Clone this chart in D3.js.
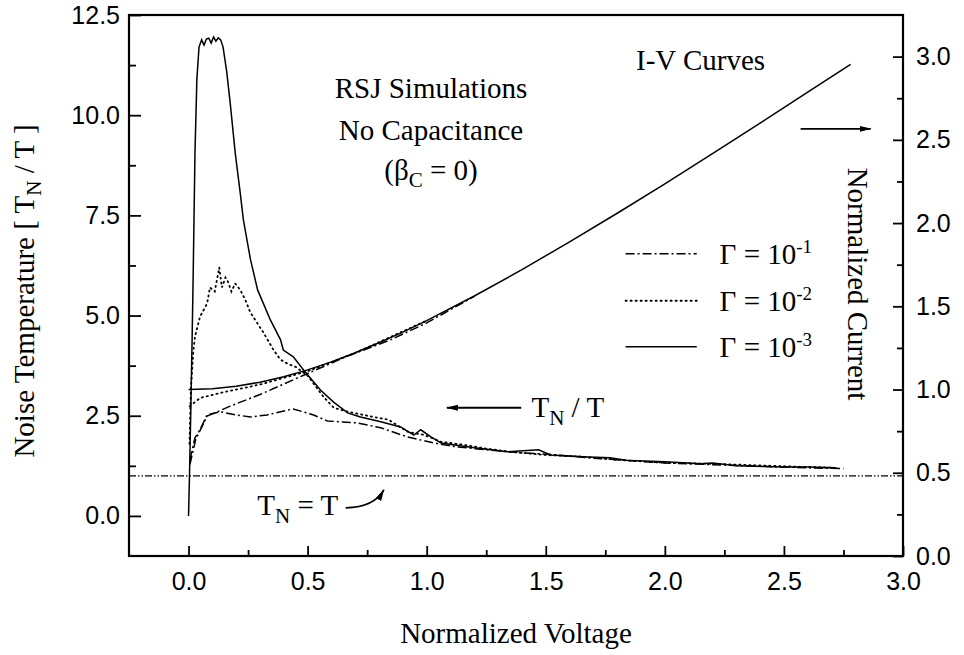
<!DOCTYPE html>
<html>
<head>
<meta charset="utf-8">
<script src="https://cdn.jsdelivr.net/npm/d3@7"></script>
<style>
  body { margin: 0; background: #fff; }
  svg { display: block; }
  .tk text { font-family: "Liberation Sans", Arial, Helvetica, sans-serif; font-size: 25px; fill: #000; }
  .tk path, .tk line { stroke: #000; stroke-width: 1.8px; }
  .serif { font-family: "Liberation Serif", "Times New Roman", Times, "DejaVu Serif", serif; font-size: 29px; fill: #000; }
</style>
</head>
<body>
<div id="chart"></div>
<script>
// Noise temperature T_N/T vs normalized voltage (left axis)
const vTnG3 = [0, 0.004, 0.01, 0.015, 0.02, 0.027, 0.035, 0.044, 0.055, 0.065, 0.075, 0.085, 0.095, 0.105, 0.115, 0.125, 0.135, 0.145, 0.16, 0.175, 0.196, 0.217, 0.23, 0.26, 0.29, 0.343, 0.386, 0.398, 0.44, 0.483, 0.554, 0.609, 0.668, 0.722, 0.807, 0.89, 0.946, 0.975, 1.018, 1.06, 1.2, 1.34, 1.47, 1.52, 1.68, 1.77, 1.85, 2.0, 2.15, 2.2, 2.3, 2.5, 2.6, 2.72];
const tnG3  = [0, 1.0, 2.8, 4.4, 6.2, 9.06, 10.9, 11.7, 11.88, 11.75, 11.9, 11.92, 11.8, 11.95, 11.85, 11.93, 11.88, 11.7, 11.1, 10.3, 9.06, 8.06, 7.4, 6.4, 5.64, 4.9, 4.4, 4.14, 3.97, 3.64, 3.14, 2.84, 2.57, 2.47, 2.35, 2.22, 2.02, 2.15, 1.97, 1.82, 1.7, 1.6, 1.65, 1.52, 1.47, 1.45, 1.38, 1.35, 1.3, 1.32, 1.25, 1.22, 1.22, 1.2];

const vTnG2 = [0.004, 0.01, 0.02, 0.027, 0.048, 0.078, 0.09, 0.11, 0.129, 0.14, 0.155, 0.166, 0.18, 0.196, 0.217, 0.238, 0.26, 0.29, 0.315, 0.357, 0.386, 0.415, 0.45, 0.5, 0.567, 0.61, 0.668, 0.75, 0.84, 0.92, 0.99, 1.06, 1.15, 1.25, 1.35, 1.5, 1.65, 1.8, 2.0, 2.2, 2.4, 2.6, 2.72];
const tnG2  = [1.8, 3.2, 4.1, 4.47, 4.97, 5.3, 5.7, 5.6, 6.2, 5.7, 5.95, 5.84, 5.6, 5.8, 5.64, 5.4, 5.07, 4.8, 4.57, 4.14, 3.9, 3.8, 3.72, 3.5, 2.97, 2.7, 2.6, 2.5, 2.4, 2.1, 2.02, 1.85, 1.78, 1.68, 1.6, 1.52, 1.48, 1.4, 1.33, 1.3, 1.26, 1.22, 1.2];

const vTnG1 = [0.006, 0.027, 0.048, 0.078, 0.133, 0.2, 0.26, 0.33, 0.4, 0.44, 0.525, 0.583, 0.71, 0.807, 0.92, 1.03, 1.13, 1.34, 1.55, 1.68, 1.85, 2.0, 2.2, 2.4, 2.6, 2.75];
const tnG1  = [1.4, 1.95, 2.15, 2.52, 2.6, 2.52, 2.47, 2.52, 2.62, 2.67, 2.52, 2.37, 2.32, 2.2, 1.97, 1.82, 1.72, 1.6, 1.52, 1.45, 1.38, 1.32, 1.28, 1.24, 1.2, 1.18];

// I-V curves, normalized current (right axis)
const vIvG3 = [0, 0.1, 0.2, 0.3, 0.4, 0.5, 0.6, 0.7, 0.8, 0.9, 1.0, 1.2, 1.4, 1.6, 1.8, 2.0, 2.2, 2.4, 2.6, 2.78];
const ivG3  = [1.0, 1.005, 1.02, 1.044, 1.077, 1.118, 1.166, 1.221, 1.281, 1.345, 1.414, 1.562, 1.72, 1.887, 2.059, 2.236, 2.417, 2.6, 2.786, 2.954];

const vIvG2 = [0.005, 0.05, 0.15, 0.3, 0.5, 0.7, 1.0];
const ivG2  = [0.9, 0.95, 0.985, 1.03, 1.11, 1.22, 1.414];

const vIvG1 = [0.006, 0.03, 0.078, 0.175, 0.3, 0.483, 0.65, 0.85, 1.0, 1.2];
const ivG1  = [0.55, 0.7, 0.84, 0.9, 0.97, 1.086, 1.19, 1.3, 1.4, 1.56];

// ticks
const xTicks = [0, 0.5, 1.0, 1.5, 2.0, 2.5, 3.0];
const xMinor = [0.25, 0.75, 1.25, 1.75, 2.25, 2.75];
const yLTicks = [0, 2.5, 5.0, 7.5, 10.0, 12.5];
const yLMinor = [1.25, 3.75, 6.25, 8.75, 11.25];
const yRTicks = [0, 0.5, 1.0, 1.5, 2.0, 2.5, 3.0];
const yRMinor = [0.25, 0.75, 1.25, 1.75, 2.25, 2.75];

const legendLabels = ["-1", "-2", "-3"];

const width = 964, height = 655;
const box = { left: 129, right: 903, top: 15, bottom: 556 };

const svg = d3.select("#chart").append("svg")
  .attr("width", width).attr("height", height);

const x = d3.scaleLinear().domain([-0.25, 3.0]).range([box.left, box.right]);
const yL = d3.scaleLinear().domain([-1, 12.5]).range([box.bottom, box.top]);
const yR = d3.scaleLinear().domain([0, 3.25]).range([box.bottom, box.top]);

const fmt = d3.format(".1f");

// arrow head
const defs = svg.append("defs");
defs.append("marker").attr("id", "ah")
  .attr("viewBox", "0 0 12 8").attr("refX", 11).attr("refY", 4)
  .attr("markerWidth", 12).attr("markerHeight", 8).attr("markerUnits", "userSpaceOnUse")
  .attr("orient", "auto")
  .append("path").attr("d", "M0,1 L12,4 L0,7 Z").attr("fill", "#000");

// axes (ticks point inward)
const gx = svg.append("g").attr("class", "tk").attr("transform", `translate(0,${box.bottom})`);
gx.call(d3.axisBottom(x).tickValues(xTicks).tickFormat(fmt).tickSize(-10).tickSizeOuter(0).tickPadding(16));
gx.call(g => g.select(".domain").remove());
svg.append("g").attr("class", "tk").attr("transform", `translate(0,${box.bottom})`)
  .call(d3.axisBottom(x).tickValues(xMinor).tickFormat("").tickSize(-6).tickSizeOuter(0))
  .call(g => g.select(".domain").remove());

const gl = svg.append("g").attr("class", "tk").attr("transform", `translate(${box.left},0)`);
gl.call(d3.axisLeft(yL).tickValues(yLTicks).tickFormat(fmt).tickSize(-12).tickSizeOuter(0).tickPadding(9));
gl.call(g => g.select(".domain").remove());
svg.append("g").attr("class", "tk").attr("transform", `translate(${box.left},0)`)
  .call(d3.axisLeft(yL).tickValues(yLMinor).tickFormat("").tickSize(-7).tickSizeOuter(0))
  .call(g => g.select(".domain").remove());

const gr = svg.append("g").attr("class", "tk").attr("transform", `translate(${box.right},0)`);
gr.call(d3.axisRight(yR).tickValues(yRTicks).tickFormat(fmt).tickSize(-10).tickSizeOuter(0).tickPadding(13));
gr.call(g => g.select(".domain").remove());
svg.append("g").attr("class", "tk").attr("transform", `translate(${box.right},0)`)
  .call(d3.axisRight(yR).tickValues(yRMinor).tickFormat("").tickSize(-6).tickSizeOuter(0))
  .call(g => g.select(".domain").remove());

// frame
svg.append("rect")
  .attr("x", box.left).attr("y", box.top)
  .attr("width", box.right - box.left).attr("height", box.bottom - box.top)
  .attr("fill", "none").attr("stroke", "#000").attr("stroke-width", 2.2);

// line styles per Gamma
const styles = {
  g1: "9,3,2,3",
  g2: "1.2,3.8",
  g3: null
};

const lineL = d3.line().x(d => x(d[0])).y(d => yL(d[1]));
const lineR = d3.line().x(d => x(d[0])).y(d => yR(d[1]));

function draw(vs, ys, gen, dash) {
  svg.append("path")
    .datum(vs.map((v, i) => [v, ys[i]]))
    .attr("d", gen)
    .attr("fill", "none")
    .attr("stroke", "#000")
    .attr("stroke-width", dash === styles.g2 ? 1.8 : 1.5)
    .attr("stroke-linecap", dash === styles.g2 ? "round" : "butt")
    .attr("stroke-dasharray", dash);
}

// T_N = T reference line
svg.append("path")
  .datum([[-0.25, 1], [3.0, 1]])
  .attr("d", lineL)
  .attr("fill", "none").attr("stroke", "#000").attr("stroke-width", 1.3)
  .attr("stroke-dasharray", "7,2,1.5,2,1.5,2");

draw(vIvG1, ivG1, lineR, styles.g1);
draw(vIvG2, ivG2, lineR, styles.g2);
draw(vIvG3, ivG3, lineR, styles.g3);
draw(vTnG1, tnG1, lineL, styles.g1);
draw(vTnG2, tnG2, lineL, styles.g2);
draw(vTnG3, tnG3, lineL, styles.g3);

// axis titles
svg.append("text").attr("class", "serif")
  .attr("transform", `translate(34,291) rotate(-90)`)
  .attr("text-anchor", "middle")
  .call(t => {
    t.append("tspan").text("Noise Temperature  [ T");
    t.append("tspan").attr("dy", 7).attr("font-size", 21).text("N");
    t.append("tspan").attr("dy", -7).text(" / T ]");
  });

svg.append("text").attr("class", "serif")
  .attr("x", (box.left + box.right) / 2).attr("y", 643)
  .attr("text-anchor", "middle")
  .text("Normalized Voltage");

svg.append("text").attr("class", "serif")
  .attr("transform", `translate(848,284) rotate(90)`)
  .attr("text-anchor", "middle")
  .text("Normalized Current");

// annotations
const ann = svg.append("g").attr("class", "serif");
ann.append("text").attr("x", x(1.018)).attr("y", yL(10.43)).attr("text-anchor", "middle").text("RSJ Simulations");
ann.append("text").attr("x", x(1.018)).attr("y", yL(9.38)).attr("text-anchor", "middle").text("No Capacitance");
ann.append("text").attr("x", x(1.018)).attr("y", yL(8.39)).attr("text-anchor", "middle")
  .call(t => {
    t.append("tspan").text("(β");
    t.append("tspan").attr("dy", 7).attr("font-size", 21).text("C");
    t.append("tspan").attr("dy", -7).text(" = 0)");
  });
ann.append("text").attr("x", x(2.15)).attr("y", yR(2.92)).attr("text-anchor", "middle").text("I-V Curves");

svg.append("line")
  .attr("x1", x(2.57)).attr("x2", x(2.864)).attr("y1", yL(9.66)).attr("y2", yL(9.66))
  .attr("stroke", "#000").attr("stroke-width", 1.8).attr("marker-end", "url(#ah)");

// T_N / T label, arrow pointing to the left axis
svg.append("line")
  .attr("x1", x(1.397)).attr("x2", x(1.085)).attr("y1", yL(2.7)).attr("y2", yL(2.7))
  .attr("stroke", "#000").attr("stroke-width", 1.8).attr("marker-end", "url(#ah)");
ann.append("text").attr("x", x(1.44)).attr("y", yL(2.47))
  .call(t => {
    t.append("tspan").text("T");
    t.append("tspan").attr("dy", 8).attr("font-size", 21).text("N");
    t.append("tspan").attr("dy", -8).text(" / T");
  });

// T_N = T label with curved arrow
ann.append("text").attr("x", x(0.289)).attr("y", yL(0.03))
  .call(t => {
    t.append("tspan").text("T");
    t.append("tspan").attr("dy", 8).attr("font-size", 21).text("N");
    t.append("tspan").attr("dy", -8).text(" = T");
  });
const cp = d3.path();
cp.moveTo(x(0.66), yL(0.2));
cp.quadraticCurveTo(x(0.78), yL(0.22), x(0.82), yL(0.65));
svg.append("path").attr("d", cp.toString())
  .attr("fill", "none").attr("stroke", "#000").attr("stroke-width", 1.8)
  .attr("marker-end", "url(#ah)");

// legend
const legY = [6.54, 5.37, 4.22];
const legDash = [styles.g1, styles.g2, styles.g3];
legY.forEach((ly, i) => {
  svg.append("line")
    .attr("x1", x(1.835)).attr("x2", x(2.134)).attr("y1", yL(ly)).attr("y2", yL(ly))
    .attr("stroke", "#000")
    .attr("stroke-width", i === 1 ? 1.8 : 1.5)
    .attr("stroke-linecap", i === 1 ? "round" : "butt")
    .attr("stroke-dasharray", legDash[i]);
  ann.append("text").attr("x", x(2.23)).attr("y", yL(ly) + 10)
    .call(t => {
      t.append("tspan").text("Γ = 10");
      t.append("tspan").attr("dy", -11).attr("font-size", 19).text(legendLabels[i]);
    });
});
</script>
</body>
</html>
